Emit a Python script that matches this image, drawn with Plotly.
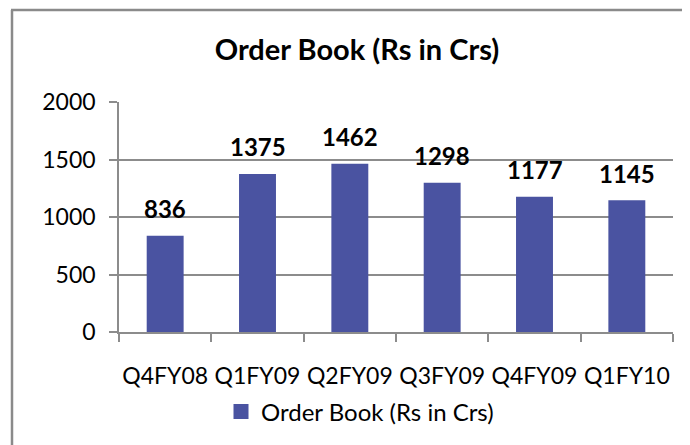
import plotly.graph_objects as go

categories = ["Q4FY08", "Q1FY09", "Q2FY09", "Q3FY09", "Q4FY09", "Q1FY10"]
order_book = [836, 1375, 1462, 1298, 1177, 1145]
series_name = "Order Book (Rs in Crs)"
y_ticks = [0, 500, 1000, 1500, 2000]

BAR = "#4A53A1"
GRID = "#8c8c8c"
FONT = "Lato, Carlito, Calibri, sans-serif"

OFF = 8  # page body margin
W, H = 690 - OFF, 445 - OFF
# target screen pixel positions of the plot area
X0, X1, Y0, Y1 = 119, 673, 102, 332
L, R, T, B = X0 - OFF, W - (X1 - OFF), Y0 - OFF, H - (Y1 - OFF)
pw, ph = W - L - R, H - T - B

def px_x(p):  # screen px -> paper
    return (p - X0) / pw

def px_y(p):
    return (Y1 - p) / ph

fig = go.Figure()
fig.add_trace(go.Bar(
    x=categories, y=order_book, name=series_name,
    marker=dict(color=BAR, line=dict(width=0)),
    showlegend=False,
))
# legend entry with a larger square swatch
fig.add_trace(go.Scatter(
    x=[None], y=[None], mode="markers", name=series_name,
    marker=dict(symbol="square", size=15, color=BAR),
    showlegend=True,
))

for c, v in zip(categories, order_book):
    fig.add_annotation(x=c, y=v, text=f"<b>{v}</b>", showarrow=False,
                       yanchor="middle", yshift=27,
                       font=dict(family=FONT, size=24, color="black"))

# outer chart border (visible on left and top only)
fig.add_shape(type="line", xref="paper", yref="paper",
              x0=px_x(12), x1=px_x(12), y0=px_y(10), y1=px_y(470),
              line=dict(color="#8a8a8a", width=2.5))
fig.add_shape(type="line", xref="paper", yref="paper",
              x0=px_x(11), x1=px_x(710), y0=px_y(10), y1=px_y(10),
              line=dict(color="#8a8a8a", width=2.5))

fig.update_layout(
    width=W, height=H,
    margin=dict(l=L, r=R, t=T, b=B, autoexpand=False),
    paper_bgcolor="white", plot_bgcolor="white",
    font=dict(family=FONT, size=23, color="black"),
    title=dict(text="<b>Order Book (Rs in Crs)</b>", x=(357 - OFF) / W, xref="container",
               xanchor="center", y=1 - (50 - OFF) / H, yref="container", yanchor="middle",
               font=dict(family=FONT, size=29, color="black")),
    bargap=0.6,
    showlegend=True,
    legend=dict(orientation="h", xref="container", yref="container",
                x=(360 - OFF) / W, xanchor="center", y=1 - (412 - OFF) / H, yanchor="middle",
                font=dict(family=FONT, size=24, color="black"),
                itemwidth=30, bgcolor="rgba(0,0,0,0)"),
)

fig.update_xaxes(
    showline=True, linecolor=GRID, linewidth=1.5,
    ticks="outside", ticklen=8, tickcolor=GRID, tickwidth=1.5,
    tickson="boundaries", showgrid=False, tickangle=0,
    ticklabelstandoff=23,
    tickfont=dict(family=FONT, size=23, color="black"),
)
fig.update_yaxes(
    range=[0, 2000], tickvals=y_ticks,
    showline=True, linecolor=GRID, linewidth=1.5,
    ticks="outside", ticklen=8, tickcolor=GRID, tickwidth=1.5,
    showgrid=True, gridcolor=GRID, gridwidth=1.5,
    zeroline=False, ticklabelstandoff=9,
    tickfont=dict(family=FONT, size=23, color="black"),
)

fig.write_html("out.html")
